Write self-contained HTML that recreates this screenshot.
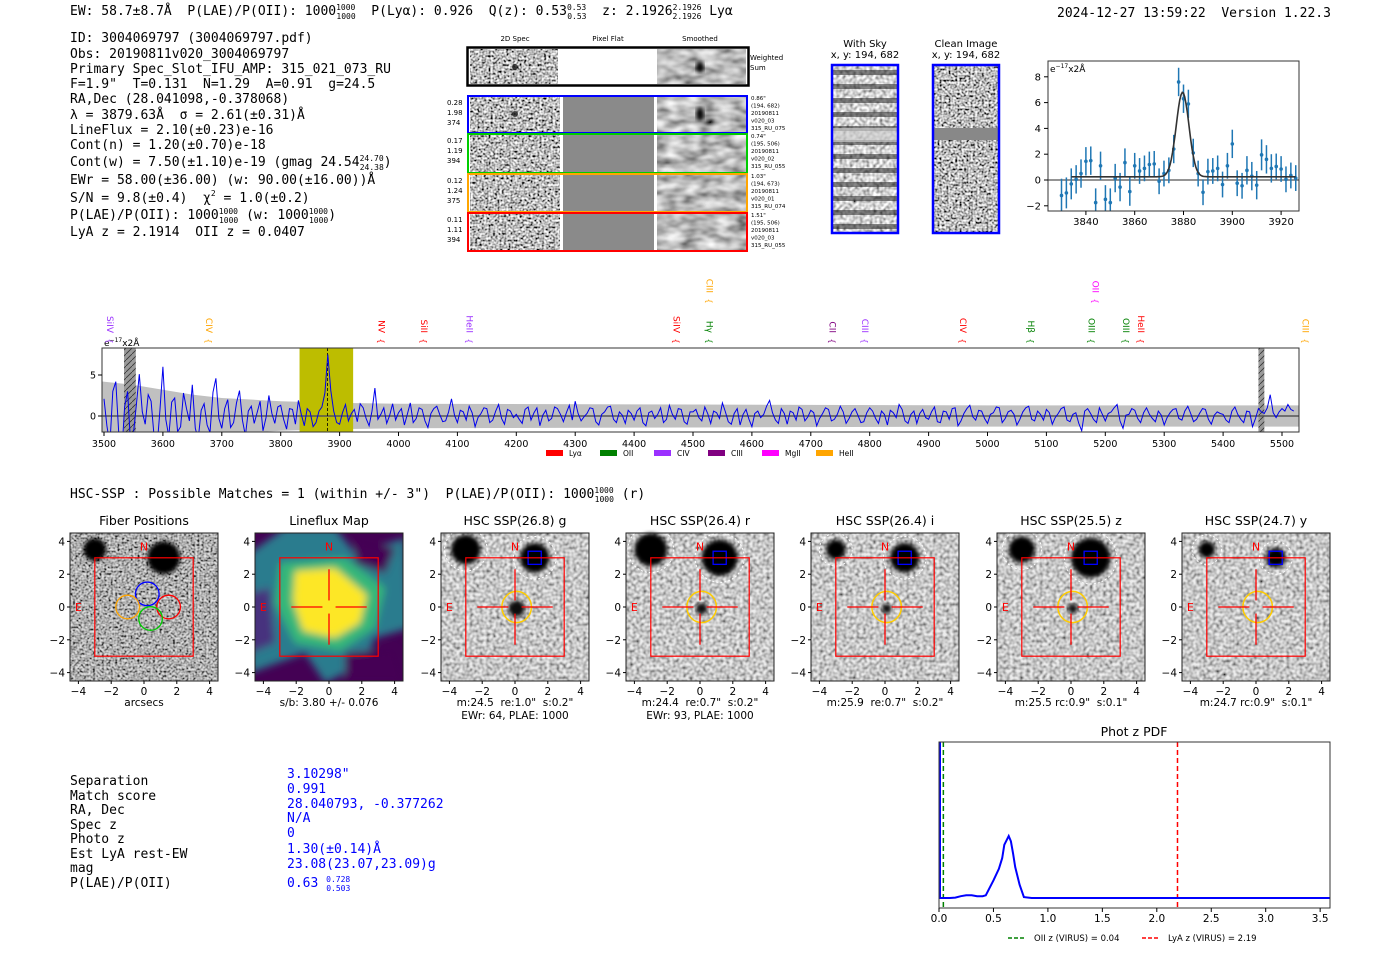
<!DOCTYPE html>
<html><head><meta charset="utf-8">
<style>
html,body{margin:0;padding:0;background:#fff;}
svg{display:block;}
text{white-space:pre;}
.m{font-family:"DejaVu Sans Mono","Liberation Mono",monospace;font-size:13px;fill:#000;}
.s{font-family:"DejaVu Sans","Liberation Sans",sans-serif;}
</style></head>
<body>
<svg id="root" width="1400" height="953" viewBox="0 0 1400 953" xmlns="http://www.w3.org/2000/svg" xml:space="preserve">
<defs>
<filter id="nz1" x="0" y="0" width="100%" height="100%"><feTurbulence type="fractalNoise" baseFrequency="0.45" numOctaves="1" seed="3"/><feColorMatrix type="saturate" values="0"/><feComponentTransfer><feFuncR type="linear" slope="3" intercept="-1"/><feFuncG type="linear" slope="3" intercept="-1"/><feFuncB type="linear" slope="3" intercept="-1"/><feFuncA type="linear" slope="0" intercept="1"/></feComponentTransfer></filter>
<filter id="nz2" x="0" y="0" width="100%" height="100%"><feTurbulence type="fractalNoise" baseFrequency="0.06 0.12" numOctaves="2" seed="7"/><feColorMatrix type="saturate" values="0"/><feComponentTransfer><feFuncR type="linear" slope="1.6" intercept="-0.3"/><feFuncG type="linear" slope="1.6" intercept="-0.3"/><feFuncB type="linear" slope="1.6" intercept="-0.3"/><feFuncA type="linear" slope="0" intercept="1"/></feComponentTransfer></filter>
<filter id="nz3" x="0" y="0" width="100%" height="100%"><feTurbulence type="fractalNoise" baseFrequency="0.3" numOctaves="1" seed="11"/><feColorMatrix type="saturate" values="0"/><feComponentTransfer><feFuncR type="linear" slope="2.2" intercept="-0.45"/><feFuncG type="linear" slope="2.2" intercept="-0.45"/><feFuncB type="linear" slope="2.2" intercept="-0.45"/><feFuncA type="linear" slope="0" intercept="1"/></feComponentTransfer></filter>
<filter id="blur2"><feGaussianBlur stdDeviation="2"/></filter>
<filter id="blur4"><feGaussianBlur stdDeviation="4"/></filter>
<pattern id="hatch" width="6" height="6" patternUnits="userSpaceOnUse"><rect width="6" height="6" fill="#999"/><path d="M0,6 L6,0" stroke="#333" stroke-width="0.8"/></pattern>
<clipPath id="specclip"><rect x="102" y="348" width="1197" height="84"/></clipPath>
<clipPath id="zoomclip"><rect x="1048" y="61" width="251" height="150"/></clipPath>
<clipPath id="pdfclip"><rect x="939" y="742" width="391" height="166"/></clipPath>
<clipPath id="lfclip"><rect x="255" y="533" width="148" height="148"/></clipPath>
</defs>

<!-- header -->
<text class="m" x="70" y="15">EW: 58.7±8.7Å  P(LAE)/P(OII): 1000<tspan font-size="8" dy="-5">1000</tspan><tspan font-size="8" dx="-19" dy="9">1000</tspan><tspan dy="-4">  P(Lyα): 0.926  Q(z): 0.53</tspan><tspan font-size="8" dy="-5">0.53</tspan><tspan font-size="8" dx="-19" dy="9">0.53</tspan><tspan dy="-4">  z: 2.1926</tspan><tspan font-size="8" dy="-5">2.1926</tspan><tspan font-size="8" dx="-29" dy="9">2.1926</tspan><tspan dy="-4"> Lyα</tspan></text>
<text class="m" x="1057" y="17">2024-12-27 13:59:22  Version 1.22.3</text>

<g>
<text class="m" x="70" y="42">ID: 3004069797 (3004069797.pdf)</text>
<text class="m" x="70" y="58">Obs: 20190811v020_3004069797</text>
<text class="m" x="70" y="73">Primary Spec_Slot_IFU_AMP: 315_021_073_RU</text>
<text class="m" x="70" y="88">F=1.9"  T=0.131  N=1.29  A=0.91  g=24.5</text>
<text class="m" x="70" y="103">RA,Dec (28.041098,-0.378068)</text>
<text class="m" x="70" y="119">λ = 3879.63Å  σ = 2.61(±0.31)Å</text>
<text class="m" x="70" y="134">LineFlux = 2.10(±0.23)e-16</text>
<text class="m" x="70" y="149">Cont(n) = 1.20(±0.70)e-18</text>
<text class="m" x="70" y="166">Cont(w) = 7.50(±1.10)e-19 (gmag 24.54<tspan font-size="8" dy="-5">24.70</tspan><tspan font-size="8" dx="-24" dy="9">24.38</tspan><tspan dy="-4">)</tspan></text>
<text class="m" x="70" y="184">EWr = 58.00(±36.00) (w: 90.00(±16.00))Å</text>
<text class="m" x="70" y="202">S/N = 9.8(±0.4)  χ<tspan font-size="8" dy="-6">2</tspan><tspan dy="6"> = 1.0(±0.2)</tspan></text>
<text class="m" x="70" y="219">P(LAE)/P(OII): 1000<tspan font-size="8" dy="-5">1000</tspan><tspan font-size="8" dx="-19" dy="9">1000</tspan><tspan dy="-4"> (w: 1000</tspan><tspan font-size="8" dy="-5">1000</tspan><tspan font-size="8" dx="-19" dy="9">1000</tspan><tspan dy="-4">)</tspan></text>
<text class="m" x="70" y="236">LyA z = 2.1914  OII z = 0.0407</text>
</g>

<!-- 2D spec panel -->
<g class="s" font-size="7">
<text x="515" y="41" text-anchor="middle">2D Spec</text>
<text x="608" y="41" text-anchor="middle">Pixel Flat</text>
<text x="700" y="41" text-anchor="middle">Smoothed</text>
<rect x="470" y="49" width="88" height="35" filter="url(#nz1)"/>
<rect x="657" y="49" width="89" height="35" filter="url(#nz2)"/>
<circle cx="515" cy="67" r="3" fill="#000" opacity="0.7"/>
<ellipse cx="700" cy="67" rx="4" ry="6" fill="#000" filter="url(#blur2)"/>
<rect x="467.5" y="47.5" width="281" height="38" fill="none" stroke="#000" stroke-width="2.5"/>
<text x="750" y="60">Weighted</text><text x="750" y="70">Sum</text>
<g id="rows"></g>
</g>

<!-- sky / clean images -->
<g>
<text class="s" font-size="10" x="865" y="47" text-anchor="middle">With Sky</text>
<text class="s" font-size="10" x="865" y="58" text-anchor="middle">x, y: 194, 682</text>
<rect x="832" y="65" width="66" height="168" filter="url(#nz3)"/>
<g id="skybands"></g>
<rect x="832" y="65" width="66" height="168" fill="none" stroke="#00f" stroke-width="2.5"/>
</g>
<g>
<text class="s" font-size="10" x="966" y="47" text-anchor="middle">Clean Image</text>
<text class="s" font-size="10" x="966" y="58" text-anchor="middle">x, y: 194, 682</text>
<rect x="933" y="65" width="66" height="168" filter="url(#nz1)"/>
<rect x="933" y="128" width="66" height="12" fill="#888"/>
<rect x="933" y="65" width="66" height="168" fill="none" stroke="#00f" stroke-width="2.5"/>
</g>

<g id="zoomplot"></g>
<g id="specplot"></g>

<text class="m" x="70" y="498">HSC-SSP : Possible Matches = 1 (within +/- 3")  P(LAE)/P(OII): 1000<tspan font-size="8" dy="-5">1000</tspan><tspan font-size="8" dx="-19" dy="9">1000</tspan><tspan dy="-4"> (r)</tspan></text>

<g id="cutouts"></g>

<g>
<text class="m" x="70" y="785">Separation</text>
<text class="m" x="70" y="800">Match score</text>
<text class="m" x="70" y="814">RA, Dec</text>
<text class="m" x="70" y="829">Spec z</text>
<text class="m" x="70" y="843">Photo z</text>
<text class="m" x="70" y="858">Est LyA rest-EW</text>
<text class="m" x="70" y="872">mag</text>
<text class="m" x="70" y="887">P(LAE)/P(OII)</text>
<text class="m" style="fill:#00f" x="287" y="778">3.10298"</text>
<text class="m" style="fill:#00f" x="287" y="793">0.991</text>
<text class="m" style="fill:#00f" x="287" y="808">28.040793, -0.377262</text>
<text class="m" style="fill:#00f" x="287" y="822">N/A</text>
<text class="m" style="fill:#00f" x="287" y="837">0</text>
<text class="m" style="fill:#00f" x="287" y="853">1.30(±0.14)Å</text>
<text class="m" style="fill:#00f" x="287" y="868">23.08(23.07,23.09)g</text>
<text class="m" style="fill:#00f" x="287" y="887">0.63 <tspan font-size="8" dy="-5">0.728</tspan><tspan font-size="8" dx="-24" dy="9">0.503</tspan></text>
</g>

<g id="pdfplot"></g>
</svg>

<script>
// ---------- data ----------
var zoomWave = [3830,3832,3834,3836,3838,3840,3842,3844,3846,3848,3850,3852,3854,3856,3858,3860,3862,3864,3866,3868,3870,3872,3874,3876,3878,3880,3882,3884,3886,3888,3890,3892,3894,3896,3898,3900,3902,3904,3906,3908,3910,3912,3914,3916,3918,3920,3922,3924,3926,3928];
var zoomFlux = [-1.2,-1.0,-0.3,0.05,0.5,1.45,1.5,-1.75,1.1,-1.5,-1.75,0.15,-0.55,1.35,-0.9,1.1,0.7,0.9,1.2,1.25,-0.1,0.5,0.75,2.4,7.6,6.3,5.9,2.1,0.5,-0.95,0.65,0.7,0.9,-0.35,1.1,2.8,-0.25,-0.45,0.75,0.3,-0.4,1.95,1.6,0.9,1.05,0.85,0.05,0.35,0.15,-1.45];
var zoomErr = [1.3,1.2,1.2,1.1,1.1,1.1,1.1,1.1,1.1,1.1,1.1,1.1,1.1,1.1,1.1,1.0,1.0,1.0,1.0,1.0,1.0,1.0,1.0,1.1,1.1,1.1,1.1,1.1,1.0,1.0,1.0,1.0,1.0,1.0,1.0,1.1,1.0,1.0,1.1,1.1,1.1,1.2,1.1,1.1,1.0,1.0,1.0,1.0,1.0,0.8];
var zoomXTicks = [3840,3860,3880,3900,3920];
var zoomYTicks = [-2,0,2,4,6,8];
var fitCenter = 3879.63, fitSigma = 2.61, fitAmp = 6.55, fitCont = 0.25;

var specStart = 3500, specStep = 5;
var specFlux = [2.1,-1.2,-3.5,3.0,4.2,-2.0,-4.8,1.1,3.0,-3.2,-2.2,1.4,5.1,0.5,-1.0,2.6,1.8,-2.5,-3.9,0.8,
6.0,-0.4,-2.5,1.7,2.2,-1.9,-1.3,2.8,0.9,-0.6,3.8,-1.5,-2.8,0.7,1.5,-1.1,-2.0,2.9,4.6,-0.3,
-1.5,0.9,2.0,-1.4,-0.8,1.6,3.1,-0.5,-2.4,0.6,1.2,-0.9,0.4,1.8,-1.8,-0.2,2.5,0.3,-0.9,1.1,
1.3,-0.4,-1.6,0.9,0.8,-1.0,1.9,0.2,-1.2,0.9,0.5,-1.3,-0.8,0.6,1.1,2.8,7.5,3.1,0.6,-0.8,
-1.0,0.4,1.4,-0.6,0.3,0.8,-0.7,1.5,1.0,-0.3,-1.2,0.6,3.4,-0.4,0.2,1.0,-0.9,0.1,1.5,-0.5,
0.4,0.9,-1.1,0.2,1.6,-0.8,-0.3,1.0,0.8,-0.6,-1.4,0.3,0.9,1.2,0.2,-0.7,-0.6,0.5,2.1,0.1,
-0.8,0.7,0.5,-0.5,1.2,0.4,-1.3,-0.2,0.3,1.0,0.9,-0.8,-0.5,0.6,1.4,-0.3,-1.0,0.8,0.6,-0.2,
0.2,-0.4,-0.9,0.8,1.1,-0.5,0.4,1.0,-1.2,0.1,0.7,-0.6,-0.3,1.1,0.9,0.2,-0.7,0.4,1.3,-0.5,
1.8,0.3,-0.6,-0.1,0.3,1.0,0.9,-0.7,-1.1,0.2,0.5,1.1,1.2,-0.4,-0.8,0.5,0.1,-0.9,0.7,0.3,
-0.5,0.6,1.0,-0.8,-1.2,0.4,0.6,-0.3,0.2,1.0,-0.8,-0.4,1.3,0.2,-0.4,0.9,0.8,-0.7,-1.0,0.5,
0.5,0.8,-0.2,-0.6,1.1,0.3,-0.9,0.6,0.4,-0.3,1.6,0.5,-0.7,-1.0,0.3,0.9,-1.1,0.2,0.8,-0.4,
-1.3,0.3,0.6,-0.2,0.2,1.2,1.9,0.4,-0.5,-0.9,0.9,0.3,-1.0,0.6,0.4,-0.5,1.1,0.8,-0.6,-0.1,
0.7,0.4,-1.2,-0.3,0.3,1.0,0.8,-0.6,-0.4,0.2,1.2,0.5,-0.9,-0.3,0.5,0.9,0.1,-0.8,-0.7,0.4,
1.0,0.6,-0.3,-0.9,0.6,0.2,-1.1,0.7,0.4,-0.2,1.4,0.8,-0.6,-0.9,0.2,0.6,-0.9,0.3,0.8,-0.2,
-0.4,0.5,1.1,-0.7,-0.8,0.6,0.5,-0.4,0.9,1.0,-1.2,-0.6,0.3,0.9,1.3,-0.1,-0.5,0.7,0.6,-0.3,
-0.9,0.2,0.4,1.1,1.0,-0.8,-0.3,0.5,0.7,0.2,-1.1,-0.4,0.5,1.0,1.2,-0.4,-0.6,0.6,0.2,-0.5,
0.8,0.4,-1.0,-0.2,0.3,0.9,1.1,-0.5,-0.7,0.2,0.4,-0.9,-1.8,0.6,0.9,0.3,-0.4,-0.8,1.0,0.2,
-0.6,0.3,0.5,1.0,1.4,-0.6,-1.5,0.1,0.2,0.9,0.7,-0.3,-0.8,0.4,1.0,0.2,-0.3,-0.7,0.6,0.1,
-1.1,-0.2,0.4,0.8,0.9,-0.3,-0.5,0.6,1.2,0.3,-0.7,-0.4,0.3,0.9,0.8,-0.4,-1.0,0.1,0.5,0.3,
0.2,-0.5,-0.8,0.6,1.1,0.2,-0.4,-0.8,0.6,0.5,-1.3,-0.3,0.9,0.5,0.3,1.0,2.6,0.4,-0.2,0.5,
0.9,0.6,1.4,0.8,0.6];
var errWave = [3497,3550,3600,3650,3700,3800,3900,4000,4500,5000,5530];
var errVal = [4.2,3.8,3.2,2.6,2.2,1.8,1.6,1.5,1.4,1.3,1.3];
var specXTicks = [3500,3600,3700,3800,3900,4000,4100,4200,4300,4400,4500,4600,4700,4800,4900,5000,5100,5200,5300,5400,5500];
var specYTicks = [0,5];
var lineNames = ["SiIV","CIV","NV","SiII","HeII","SiIV","Hγ","CIII","CII","CIII","CIV","Hβ","OIII","OII","OIII","HeII","CIII"];
var lineWaves = [3500,3668,3961,4033,4110,4462,4518,4518,4727,4782,4948,5064,5166,5173,5225,5250,5530];
var lineColors = ["#9b30ff","#ffa500","#f00","#f00","#9b30ff","#f00","#008000","#ffa500","#800080","#9b30ff","#f00","#008000","#008000","#f0f","#008000","#f00","#ffa500"];
var lineHigh = [0,0,0,0,0,0,0,1,0,0,0,0,0,1,0,0,0];
var legendNames = ["Lyα","OII","CIV","CIII","MgII","HeII"];
var legendColors = ["#f00","#008000","#9b30ff","#800080","#f0f","#ffa500"];

var pdfZ = [0,0.05,0.1,0.15,0.2,0.25,0.3,0.35,0.4,0.43,0.5,0.55,0.58,0.6,0.62,0.64,0.66,0.68,0.7,0.74,0.78,0.85,1.0,2.0,3.6];
var pdfP = [0,0,0,0.005,0.02,0.03,0.03,0.02,0.02,0.03,0.2,0.33,0.45,0.6,0.65,0.7,0.64,0.5,0.35,0.15,0.01,0,0,0,0];
var pdfXTicks = [0.0,0.5,1.0,1.5,2.0,2.5,3.0,3.5];
var oiiZ = 0.04, lyaZ = 2.19;

var cutTitles = ["Fiber Positions","Lineflux Map","HSC SSP(26.8) g","HSC SSP(26.4) r","HSC SSP(26.4) i","HSC SSP(25.5) z","HSC SSP(24.7) y"];
var cutCaps1 = ["arcsecs","s/b: 3.80 +/- 0.076",'m:24.5  re:1.0"  s:0.2"','m:24.4  re:0.7"  s:0.2"','m:25.9  re:0.7"  s:0.2"','m:25.5 rc:0.9"  s:0.1"','m:24.7 rc:0.9"  s:0.1"'];
var cutCaps2 = ["","","EWr: 64, PLAE: 1000","EWr: 93, PLAE: 1000","","",""];
var starBSize = [1.0,0,0.9,1.1,0.9,1.2,0.6];
var starASize = [0.7,0,0.9,1.0,0.6,0.8,0.5];
var srcSize = [0,0,0.5,0.35,0.3,0.3,0];
var cutTicks = [-4,-2,0,2,4];

// ---------- helpers ----------
var NS = "http://www.w3.org/2000/svg";
function mk(tag, parent, attrs){ var e=document.createElementNS(NS,tag); for(var k in attrs) e.setAttribute(k,attrs[k]); parent.appendChild(e); return e; }
function txt(parent, x, y, s, size, anchor, fill){ var t=mk("text",parent,{x:x,y:y,"font-size":size,"text-anchor":anchor||"start",fill:fill||"#000","font-family":"DejaVu Sans, Liberation Sans, sans-serif"}); t.textContent=s; return t; }

// ---------- 2D spectra rows ----------
var rows = document.getElementById("rows");
var rowY=[95,133,173,212], rowH=[38,40,39,39], rowC=["#00f","#0c0","#ffa500","#f00"];
var rowL=[["0.28","1.98","374"],["0.17","1.19","394"],["0.12","1.24","375"],["0.11","1.11","394"]];
var rowR=[['0.86"',"(194, 682)","20190811","v020_03","315_RU_075"],['0.74"',"(195, 506)","20190811","v020_02","315_RU_055"],['1.03"',"(194, 673)","20190811","v020_01","315_RU_074"],['1.51"',"(195, 506)","20190811","v020_03","315_RU_055"]];
for (var i=0;i<4;i++){
  var g = mk("g",rows,{});
  
  
  mk("rect",g,{x:470,y:rowY[i]+2,width:90,height:rowH[i]-3,filter:"url(#nz1)"});
  mk("rect",g,{x:563,y:rowY[i]+2,width:91,height:rowH[i]-3,fill:"#8a8a8a"});
  mk("rect",g,{x:657,y:rowY[i]+2,width:89,height:rowH[i]-3,filter:"url(#nz2)"});
  if(i==0){ mk("ellipse",g,{cx:700,cy:114,rx:4,ry:7,fill:"#000",filter:"url(#blur2)"}); mk("circle",g,{cx:515,cy:114,r:3,fill:"#000",opacity:0.7}); }
  mk("rect",g,{x:468,y:rowY[i]+1,width:279,height:rowH[i]-1,fill:"none",stroke:rowC[i],"stroke-width":2});
  for (var j=0;j<3;j++) txt(g,447,rowY[i]+10+j*10,rowL[i][j],7);
  for (var j=0;j<5;j++) txt(g,751,rowY[i]+5+j*7.5,rowR[i][j],5.5);
}
var sb = document.getElementById("skybands");
for (var y=70;y<233;y+=14){ mk("rect",sb,{x:832,y:y,width:66,height:5,fill:"#222",opacity:0.55}); }
mk("rect",sb,{x:832,y:128,width:66,height:14,fill:"#ccc",opacity:0.7});

// ---------- zoom line-fit plot ----------
(function(){
  var g=document.getElementById("zoomplot");
  var X=function(w){return 1183.5+(w-3880)*2.44;}, Y=function(v){return 180-v*12.9;};
  mk("line",g,{x1:1048,x2:1299,y1:Y(0),y2:Y(0),stroke:"#555","stroke-width":1.2});
  var cg=mk("g",g,{"clip-path":"url(#zoomclip)"});
  for (var i=0;i<zoomWave.length;i++){
    var e=mk("line",cg,{x1:X(zoomWave[i]),x2:X(zoomWave[i]),y1:Y(zoomFlux[i]-zoomErr[i]),y2:Y(zoomFlux[i]+zoomErr[i]),stroke:"#1f77b4","stroke-width":1.5});
    
    
    var p=mk("circle",cg,{cx:X(zoomWave[i]),cy:Y(zoomFlux[i]),r:1.8,fill:"#1f77b4"});
    
    
  }
  var d="";
  for (var w=3834;w<=3926;w+=0.5){ var v=fitCont+fitAmp*Math.exp(-0.5*Math.pow((w-fitCenter)/fitSigma,2)); d+=(d?"L":"M")+X(w).toFixed(1)+","+Y(v).toFixed(1); }
  var fl=mk("path",cg,{d:d,fill:"none",stroke:"#333","stroke-width":1.6});
  
  
  mk("rect",g,{x:1048,y:61,width:251,height:150,fill:"none",stroke:"#333","stroke-width":1});
  zoomXTicks.forEach(function(t){ mk("line",g,{x1:X(t),x2:X(t),y1:211,y2:215,stroke:"#000"}); txt(g,X(t),225,String(t),10,"middle"); });
  zoomYTicks.forEach(function(t){ mk("line",g,{x1:1044,x2:1048,y1:Y(t),y2:Y(t),stroke:"#000"}); txt(g,1041,Y(t)+3.5,t<0?"−"+(-t):String(t),10,"end"); });
  var u=txt(g,1050,72,"e",9); var s=mk("tspan",u,{"font-size":6,dy:-4}); s.textContent="−17"; var s2=mk("tspan",u,{dy:4}); s2.textContent="x2Å";
})();

// ---------- full spectrum ----------
(function(){
  var g=document.getElementById("specplot");
  var X=function(w){return 104+(w-3500)*0.589;}, Y=function(v){return 416-v*8.2;};
  var cg=mk("g",g,{"clip-path":"url(#specclip)"});
  var up="",dn="";
  for (var i=0;i<errWave.length;i++){ up+=(i?"L":"M")+X(errWave[i])+","+Y(errVal[i]); }
  for (var i=errWave.length-1;i>=0;i--){ dn+="L"+X(errWave[i])+","+Y(-errVal[i]); }
  var band=mk("path",cg,{d:up+dn+"Z",fill:"#c0c0c0"});
  
  
  var hl=mk("rect",cg,{x:X(3832),y:348,width:X(3923)-X(3832),height:84,fill:"#bdbd00"});
  
  
  mk("rect",cg,{x:X(3534),y:348,width:X(3554)-X(3534),height:84,fill:"url(#hatch)"});
  mk("rect",cg,{x:X(5460),y:348,width:X(5470)-X(5460),height:84,fill:"url(#hatch)"});
  mk("line",cg,{x1:102,x2:1299,y1:Y(0),y2:Y(0),stroke:"#555","stroke-width":1.5});
  mk("line",cg,{x1:X(3879.6),x2:X(3879.6),y1:348,y2:432,stroke:"#000","stroke-dasharray":"3,2","stroke-width":0.8});
  var d="";
  for (var i=0;i<specFlux.length;i++){ d+=(i?"L":"M")+X(specStart+i*specStep).toFixed(1)+","+Y(specFlux[i]).toFixed(1); }
  var sp=mk("path",cg,{d:d,fill:"none",stroke:"#0000ee","stroke-width":1});
  
  
  mk("rect",g,{x:102,y:348,width:1197,height:84,fill:"none",stroke:"#333","stroke-width":1});
  specXTicks.forEach(function(t){ mk("line",g,{x1:X(t),x2:X(t),y1:432,y2:436,stroke:"#000"}); txt(g,X(t),447,String(t),9.5,"middle"); });
  specYTicks.forEach(function(t){ mk("line",g,{x1:98,x2:102,y1:Y(t),y2:Y(t),stroke:"#000"}); txt(g,96,Y(t)+3.5,String(t),9.5,"end"); });
  var u=txt(g,104,346,"e",9); var s=mk("tspan",u,{"font-size":6,dy:-4}); s.textContent="−17"; var s2=mk("tspan",u,{dy:4}); s2.textContent="x2Å";
  for (var i=0;i<lineNames.length;i++){
    var x=X(lineWaves[i])+3, yb=lineHigh[i]?305:345;
    var lg=mk("g",g,{});
    
    
    var t=txt(lg,0,0,lineNames[i],9,"end",lineColors[i]);
    t.setAttribute("transform","translate("+x+","+(yb-12)+") rotate(90)");
    var b=txt(lg,0,0,"{",8,"middle",lineColors[i]);
    b.setAttribute("transform","translate("+x+","+(yb-4)+") rotate(90)");
  }
  for (var i=0;i<legendNames.length;i++){
    var lx=546+i*54;
    var r=mk("rect",g,{x:lx,y:450,width:17,height:6,fill:legendColors[i]});
    
    
    txt(g,lx+23,456,legendNames[i],7.5);
  }
})();

// ---------- cutouts ----------
(function(){
  var root=document.getElementById("cutouts");
  var lefts=[70,255,441,626,811,997,1182];
  for (var p=0;p<7;p++){
    var L=lefts[p], T=533, W=148, H=148;
    var cx=L+74, cy=T+74, s=16.4;
    var X=function(a){return cx+a*s;}, Y=function(a){return cy-a*s;};
    var g=mk("g",root,{});
    
    
    txt(g,cx,525,cutTitles[p],12.5,"middle");
    if (p==1){
      var lg=mk("g",g,{"clip-path":"url(#lfclip)"});
      mk("rect",lg,{x:L,y:T,width:W,height:H,fill:"#440154"});
      var tl=mk("g",lg,{filter:"url(#blur4)"});
      mk("polygon",tl,{points:[L-5,T+20,L+30,T-5,L+80,T-5,L+100,T+20,L+150,T+5,L+155,T+95,L+120,T+105,L+110,T+130,L+70,T+150,L+50,T+120,L-5,T+140].join(","),fill:"#2a7b8e"});
      mk("polygon",tl,{points:[L+25,T+30,L+90,T+25,L+130,T+55,L+120,T+95,L+85,T+118,L+40,T+110,L+20,T+70].join(","),fill:"#35b779"});
      mk("polygon",tl,{points:[L+40,T+38,L+80,T+35,L+112,T+62,L+105,T+90,L+80,T+105,L+48,T+98,L+38,T+68].join(","),fill:"#fde725"});
      mk("polygon",tl,{points:[L+100,T+5,L+140,T+15,L+130,T+40,L+100,T+30].join(","),fill:"#440154"});
      mk("polygon",tl,{points:[L+90,T+120,L+140,T+115,L+150,T+150,L+90,T+150].join(","),fill:"#440154"});
      mk("polygon",tl,{points:[L-5,T+60,L+15,T+55,L+20,T+110,L-5,T+120].join(","),fill:"#46327e"});
    } else {
      mk("rect",g,{x:L,y:T,width:W,height:H,filter:p==0?"url(#nz1)":"url(#nz3)"});
      mk("rect",g,{x:L,y:T,width:W,height:H,fill:"#888",opacity:p==0?0.25:0.15});
      mk("circle",g,{cx:X(-3),cy:Y(3.5),r:starASize[p]*s,fill:"#000",filter:"url(#blur2)"});
      mk("circle",g,{cx:X(1.2),cy:Y(3.0),r:starBSize[p]*s,fill:"#000",filter:"url(#blur2)"});
      if (srcSize[p]>0) mk("circle",g,{cx:X(0.1),cy:Y(-0.1),r:srcSize[p]*s,fill:"#111",filter:"url(#blur2)"});
      if (p>=2){
        mk("circle",g,{cx:X(-3),cy:Y(3.5),r:(starASize[p]+0.4)*s,fill:"none",stroke:"#fff","stroke-dasharray":"2,2"});
        mk("circle",g,{cx:X(1.2),cy:Y(3.0),r:(starBSize[p]+0.4)*s,fill:"none",stroke:"#fff","stroke-dasharray":"2,2"});
        mk("rect",g,{x:X(0.8),y:Y(3.4),width:0.8*s,height:0.8*s,fill:"none",stroke:"#00f","stroke-width":1.3});
        mk("ellipse",g,{cx:X(0.1),cy:Y(0),rx:0.9*s,ry:0.95*s,fill:"none",stroke:"#fc0","stroke-width":1.5});
      }
    }
    mk("rect",g,{x:X(-3),y:Y(3),width:6*s,height:6*s,fill:"none",stroke:"#f00","stroke-width":1.2});
    if (p==0){
      var cc=[[0.2,0.8,"#00f"],[-1,0,"#ffa500"],[1.5,0,"#f00"],[0.4,-0.7,"#0c0"]];
      cc.forEach(function(c){ mk("circle",g,{cx:X(c[0]),cy:Y(c[1]),r:0.72*s,fill:"none",stroke:c[2],"stroke-width":1.3}); });
    } else {
      mk("line",g,{x1:X(-2.3),x2:X(-0.4),y1:Y(0),y2:Y(0),stroke:"#f00","stroke-width":1.3});
      mk("line",g,{x1:X(0.4),x2:X(2.3),y1:Y(0),y2:Y(0),stroke:"#f00","stroke-width":1.3});
      mk("line",g,{x1:X(0),x2:X(0),y1:Y(2.3),y2:Y(0.4),stroke:"#f00","stroke-width":1.3});
      mk("line",g,{x1:X(0),x2:X(0),y1:Y(-0.4),y2:Y(-2.3),stroke:"#f00","stroke-width":1.3});
    }
    txt(g,X(0),Y(3.7)+4,"N",11,"middle","#f00");
    txt(g,X(-4),Y(0)+4,"E",11,"middle","#f00");
    mk("rect",g,{x:L,y:T,width:W,height:H,fill:"none",stroke:"#222","stroke-width":1});
    cutTicks.forEach(function(t){
      mk("line",g,{x1:X(t),x2:X(t),y1:T+H,y2:T+H+3,stroke:"#000"});
      txt(g,X(t),T+H+14,t<0?"−"+(-t):String(t),10.5,"middle");
      mk("line",g,{x1:L-3,x2:L,y1:Y(t),y2:Y(t),stroke:"#000"});
      txt(g,L-5,Y(t)+4,t<0?"−"+(-t):String(t),10.5,"end");
    });
    txt(g,cx,706,cutCaps1[p],10.5,"middle");
    if (cutCaps2[p]) txt(g,cx,719,cutCaps2[p],10.5,"middle");
  }
})();

// ---------- phot z pdf ----------
(function(){
  var g=document.getElementById("pdfplot");
  var X=function(z){return 939+z*108.9;}, Y=function(p){return 898-p*88.6;};
  txt(g,1134,736,"Phot z PDF",12.5,"middle");
  var cg=mk("g",g,{"clip-path":"url(#pdfclip)"});
  mk("line",cg,{x1:X(oiiZ),x2:X(oiiZ),y1:742,y2:908,stroke:"#008000","stroke-dasharray":"5,3","stroke-width":1.5});
  mk("line",cg,{x1:X(lyaZ),x2:X(lyaZ),y1:742,y2:908,stroke:"#f00","stroke-dasharray":"5,3","stroke-width":1.5});
  var d="";
  for (var i=0;i<pdfZ.length;i++) d+=(i?"L":"M")+X(pdfZ[i]).toFixed(1)+","+Y(pdfP[i]).toFixed(1);
  var c=mk("path",cg,{d:d,fill:"none",stroke:"#00f","stroke-width":2});
  
  
  mk("line",cg,{x1:X(0)+1,x2:X(0)+1,y1:742,y2:898,stroke:"#00f","stroke-width":2});
  mk("rect",g,{x:939,y:742,width:391,height:166,fill:"none",stroke:"#333","stroke-width":1});
  pdfXTicks.forEach(function(t){ mk("line",g,{x1:X(t),x2:X(t),y1:908,y2:912,stroke:"#000"}); txt(g,X(t),922,t.toFixed(1),10.5,"middle"); });
  mk("line",g,{x1:1008,x2:1024,y1:938,y2:938,stroke:"#008000","stroke-dasharray":"4,2","stroke-width":1.5});
  txt(g,1034,941,"OII z (VIRUS) = 0.04",8.5);
  mk("line",g,{x1:1142,x2:1158,y1:938,y2:938,stroke:"#f00","stroke-dasharray":"4,2","stroke-width":1.5});
  txt(g,1168,941,"LyA z (VIRUS) = 2.19",8.5);
})();
</script>
</body></html>
